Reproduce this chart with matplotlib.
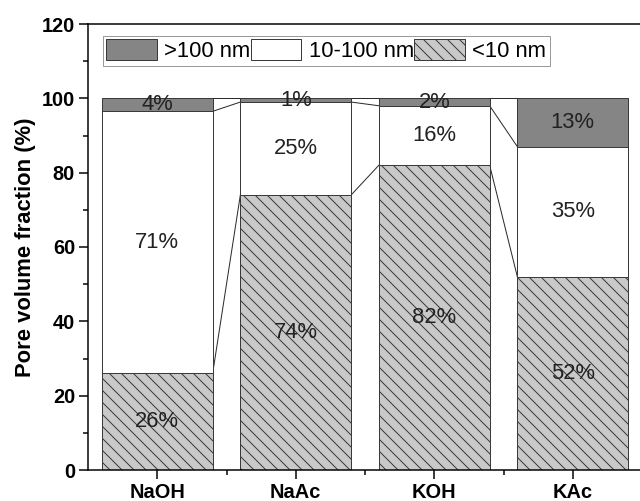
import numpy as np
import matplotlib
matplotlib.use("Agg")
import matplotlib.pyplot as plt
from matplotlib.ticker import MultipleLocator, FixedLocator

# DATA
categories = ["NaOH", "NaAc", "KOH", "KAc"]
small = [26, 74, 82, 52]       # <10 nm
mid = [70.5, 25, 16, 35]       # 10-100 nm
large = [3.5, 1, 2, 13]        # >100 nm
small_lbl = ["26%", "74%", "82%", "52%"]
mid_lbl = ["71%", "25%", "16%", "35%"]
large_lbl = ["4%", "1%", "2%", "13%"]
legend_labels = [">100 nm", "10-100 nm", "<10 nm"]

# STYLE (dpi 72 so 1 pt == 1 px and hatch spacing matches)
DPI = 72
plt.rcParams['font.family'] = ['Liberation Sans', 'DejaVu Sans']
plt.rcParams['hatch.linewidth'] = 1.0

fig = plt.figure(figsize=(640 / DPI, 501 / DPI), dpi=DPI)
ax = fig.add_axes([88 / 640, 1 - 470 / 501, 554 / 640, 446 / 501])

x = np.arange(len(categories))
w = 0.8
small = np.array(small, dtype=float)
mid = np.array(mid, dtype=float)
large = np.array(large, dtype=float)

b1 = ax.bar(x, small, w, color='#c9c9c9', edgecolor='#3a3a3a', hatch='\\\\', linewidth=1.0, zorder=2)
b2 = ax.bar(x, mid, w, bottom=small, color='white', edgecolor='#3a3a3a', linewidth=1.0, zorder=2)
b3 = ax.bar(x, large, w, bottom=small + mid, color='#858585', edgecolor='#3a3a3a', linewidth=1.0, zorder=2)

# connecting lines between stacked levels
levels = [small, small + mid, small + mid + large]
for lev in levels:
    for i in range(len(x) - 1):
        ax.plot([x[i] + w / 2, x[i + 1] - w / 2], [lev[i], lev[i + 1]],
                color='#2a2a2a', lw=1.0, zorder=1)

# segment labels
for i in range(len(x)):
    ax.text(x[i], small[i] / 2, small_lbl[i], ha='center', va='center', fontsize=22, color='#222222', zorder=3)
    ax.text(x[i], small[i] + mid[i] / 2, mid_lbl[i], ha='center', va='center', fontsize=22, color='#222222', zorder=3)
    ax.text(x[i], small[i] + mid[i] + large[i] / 2, large_lbl[i], ha='center', va='center', fontsize=22, color='#222222', zorder=3)

ax.set_xlim(-0.5, 3.5)
ax.set_ylim(0, 120)
ax.set_xticks(x)
ax.set_xticklabels(categories, fontsize=20, fontweight='bold')
ax.xaxis.set_minor_locator(FixedLocator([0.5, 1.5, 2.5]))
ax.yaxis.set_major_locator(MultipleLocator(20))
ax.yaxis.set_minor_locator(MultipleLocator(10))
for lbl in ax.get_yticklabels():
    lbl.set_fontsize(20)
    lbl.set_fontweight('bold')
ax.tick_params(which='major', direction='out', length=9, width=1.5, pad=4)
ax.tick_params(which='minor', direction='out', length=5, width=1.5)
ax.tick_params(top=False, right=False)
for s in ax.spines.values():
    s.set_linewidth(1.5)
ax.set_ylabel("Pore volume fraction (%)", fontsize=22, fontweight='bold', labelpad=6)

leg = ax.legend([b3, b2, b1], legend_labels, ncol=3, loc='upper left',
                bbox_to_anchor=(0.0265, 0.973), borderaxespad=0, fontsize=22,
                handlelength=2.3, handleheight=1.1, handletextpad=0.35,
                columnspacing=0.0, borderpad=0.15, fancybox=False, framealpha=1)
leg.get_frame().set_edgecolor('#9a9a9a')
leg.get_frame().set_linewidth(1.0)

fig.savefig("out.png", dpi=DPI)
